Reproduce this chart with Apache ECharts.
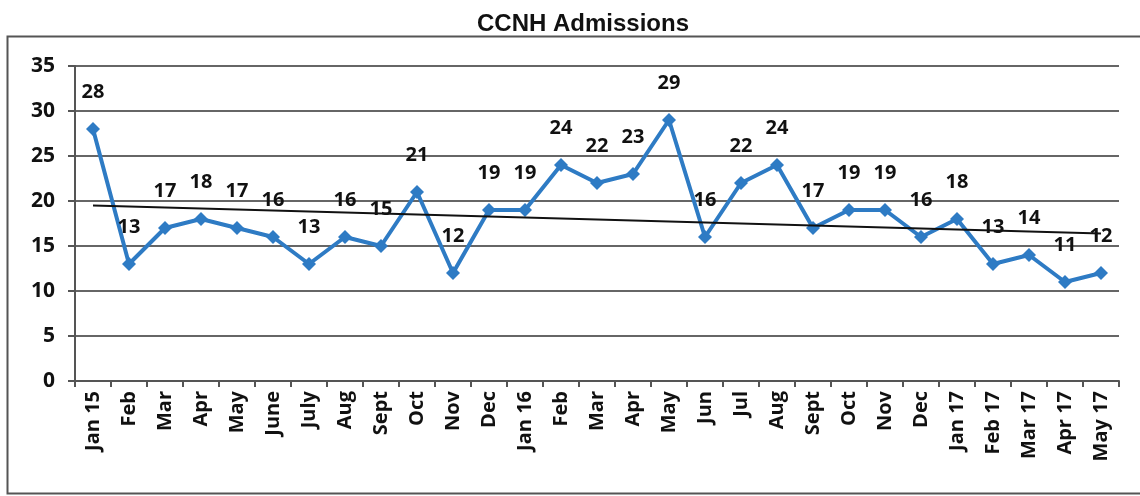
<!DOCTYPE html>
<html>
<head>
<meta charset="utf-8">
<script src="https://cdn.jsdelivr.net/npm/echarts@6/dist/echarts.min.js"></script>
<style>
  html, body { margin: 0; padding: 0; background: #fff; }
  #chart { width: 1140px; height: 496px; }
</style>
</head>
<body>
<div id="chart"></div>
<script>
  // month labels as printed on the axis
  let months = ['Jan 15', 'Feb', 'Mar', 'Apr', 'May', 'June', 'July', 'Aug', 'Sept', 'Oct', 'Nov', 'Dec',
    'Jan 16', 'Feb', 'Mar', 'Apr', 'May', 'Jun', 'Jul', 'Aug', 'Sept', 'Oct', 'Nov', 'Dec',
    'Jan 17', 'Feb 17', 'Mar 17', 'Apr 17', 'May 17']
  let admissions = [28, 13, 17, 18, 17, 16, 13, 16, 15, 21, 12, 19, 19, 24, 22, 23, 29, 16, 22, 24,
    17, 19, 19, 16, 18, 13, 14, 11, 12]
  // linear trend, value at first and last month
  let trendEnds = [19.5, 16.4]
  let yTicks = { min: 0, max: 35, step: 5 }

  // category axis needs unique keys, show only the printed label
  let keys = months.map((m, i) => i + '|' + m)

  let chart = echarts.init(document.getElementById('chart'))
  chart.setOption({
    animation: false,
    title: {
      text: 'CCNH Admissions',
      left: 578,
      textAlign: 'center',
      top: 7,
      textStyle: { fontFamily: 'Liberation Sans', fontWeight: 'bold', fontSize: 24, color: '#111' }
    },
    graphic: [{
      type: 'rect',
      shape: { x: 7.5, y: 36.5, width: 1150, height: 457 },
      style: { fill: null, stroke: '#555', lineWidth: 2 },
      silent: true
    }],
    grid: { left: 75, right: 21, top: 66, bottom: 115 },
    xAxis: {
      type: 'category',
      data: keys,
      boundaryGap: true,
      axisLine: { lineStyle: { color: '#555', width: 2 } },
      axisTick: { show: true, length: 6, lineStyle: { color: '#555', width: 2 } },
      axisLabel: {
        rotate: 90,
        interval: 0,
        margin: 10,
        fontFamily: 'Open Sans',
        fontWeight: 'bold',
        fontSize: 20,
        color: '#111',
        formatter: v => v.split('|')[1]
      }
    },
    yAxis: {
      type: 'value',
      min: yTicks.min,
      max: yTicks.max,
      interval: yTicks.step,
      axisLine: { show: true, lineStyle: { color: '#555', width: 2 } },
      axisTick: { show: true, length: 7, lineStyle: { color: '#555', width: 2 } },
      axisLabel: { fontFamily: 'Open Sans', fontWeight: 'bold', fontSize: 21, color: '#111', margin: 20 },
      splitLine: { lineStyle: { color: '#666', width: 2 } }
    },
    series: [{
      name: 'Admissions',
      type: 'line',
      data: admissions,
      symbol: 'diamond',
      symbolSize: 14,
      itemStyle: { color: '#2e7bc4' },
      lineStyle: { color: '#2e7bc4', width: 4 },
      label: {
        show: true,
        position: 'top',
        distance: 20,
        fontFamily: 'Open Sans',
        fontWeight: 'bold',
        fontSize: 20,
        color: '#111'
      },
      markLine: {
        silent: true,
        symbol: 'none',
        label: { show: false },
        lineStyle: { color: '#111', width: 2, type: 'solid' },
        data: [[
          { coord: [keys[0], trendEnds[0]] },
          { coord: [keys[keys.length - 1], trendEnds[1]] }
        ]]
      },
      z: 3
    }]
  })
</script>
</body>
</html>
